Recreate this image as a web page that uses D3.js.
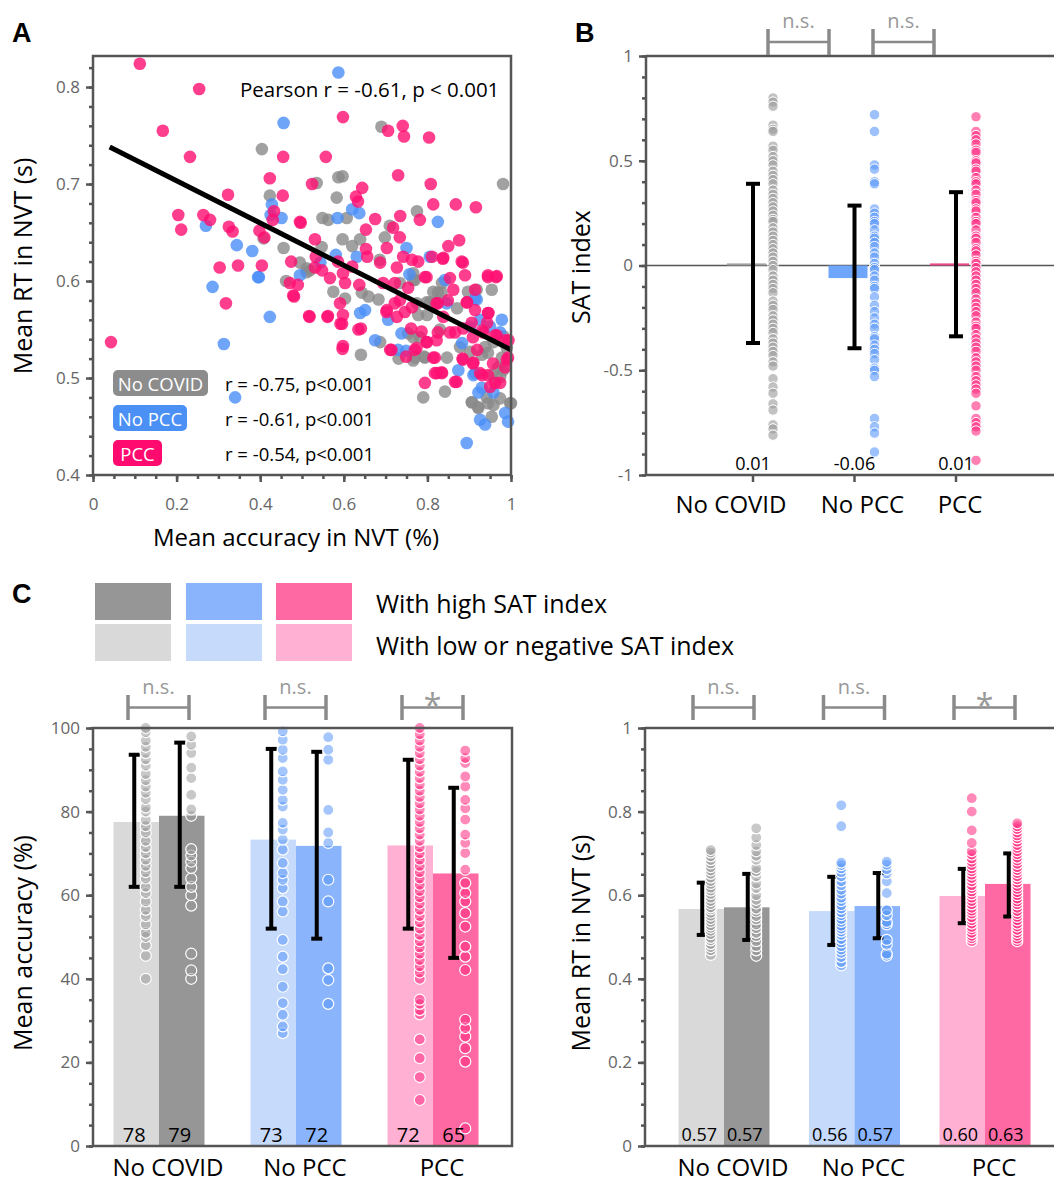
<!DOCTYPE html>
<html>
<head>
<meta charset="utf-8">
<script src="https://cdn.jsdelivr.net/npm/d3@7"></script>
<style>
  body { margin: 0; background: #fff; }
  svg text { font-family: 'Open Sans', 'DejaVu Sans', sans-serif; }
</style>
</head>
<body>
<svg id="fig" width="1054" height="1182"></svg>
<script>
'use strict';

// ---------- data ----------
var groups = ['No COVID', 'No PCC', 'PCC']

// panel A : [accuracy, RT]
var scatterGrey = [[0.404,0.736],[0.69,0.759],[0.981,0.70],[0.587,0.707],[0.597,0.708],[0.535,0.701],[0.423,0.688],[0.583,0.686],[0.775,0.672],[0.549,0.665],[0.563,0.663],[0.607,0.665],[0.71,0.657],[0.698,0.645],[0.597,0.643],[0.639,0.643],[0.62,0.636],[0.408,0.644],[0.456,0.634],[0.547,0.635],[0.511,0.613],[0.686,0.622],[0.766,0.608],[0.462,0.60],[0.511,0.609],[0.575,0.589],[0.603,0.582],[0.643,0.588],[0.659,0.584],[0.683,0.581],[0.687,0.537],[0.641,0.524],[0.731,0.52],[0.766,0.518],[0.792,0.522],[0.79,0.48],[0.842,0.486],[0.906,0.475],[0.922,0.469],[0.954,0.46],[0.958,0.472],[0.974,0.479],[1.0,0.474],[0.942,0.48],[0.958,0.537],[0.982,0.543],[0.99,0.531],[0.978,0.521],[0.974,0.501],[0.878,0.532],[0.902,0.527],[0.93,0.524],[0.734,0.598],[0.766,0.601],[0.814,0.589],[0.918,0.591],[0.954,0.591],[0.775,0.577],[0.798,0.578],[0.818,0.577],[0.834,0.588],[0.766,0.542],[0.83,0.55],[0.519,0.611],[0.495,0.619],[0.770,0.521],[0.794,0.521],[0.847,0.521],[0.945,0.526],[0.938,0.532],[0.969,0.511],[0.981,0.508],[0.955,0.503],[0.825,0.588],[0.806,0.578],[0.778,0.565],[0.799,0.565],[0.871,0.572],[0.897,0.589],[0.835,0.598],[0.770,0.601],[0.754,0.546],[0.782,0.542],[0.907,0.475],[0.921,0.47],[0.945,0.474],[0.998,0.474]]
var scatterBlue = [[0.587,0.815],[0.456,0.763],[0.428,0.679],[0.425,0.668],[0.451,0.665],[0.585,0.665],[0.62,0.674],[0.637,0.67],[0.825,0.661],[0.27,0.657],[0.344,0.637],[0.381,0.631],[0.581,0.627],[0.631,0.625],[0.75,0.634],[0.395,0.604],[0.495,0.606],[0.806,0.625],[0.286,0.594],[0.397,0.604],[0.423,0.563],[0.313,0.535],[0.34,0.48],[0.639,0.567],[0.651,0.57],[0.675,0.539],[0.706,0.56],[0.738,0.546],[0.73,0.529],[0.874,0.508],[0.894,0.433],[0.914,0.505],[0.922,0.485],[0.93,0.49],[0.958,0.485],[0.926,0.457],[0.938,0.452],[0.986,0.464],[0.993,0.455],[0.978,0.56],[0.918,0.581],[0.842,0.601],[0.846,0.577],[0.95,0.553],[0.974,0.547],[0.91,0.503],[0.926,0.56],[0.902,0.553],[0.883,0.536],[0.914,0.582],[0.757,0.607],[0.544,0.619],[0.749,0.528]]
var scatterPink = [[0.112,0.824],[0.254,0.798],[0.167,0.755],[0.232,0.728],[0.598,0.769],[0.455,0.728],[0.557,0.728],[0.706,0.755],[0.741,0.76],[0.744,0.749],[0.804,0.748],[0.423,0.706],[0.454,0.688],[0.323,0.689],[0.524,0.70],[0.644,0.696],[0.629,0.687],[0.634,0.682],[0.73,0.709],[0.808,0.70],[0.814,0.679],[0.868,0.679],[0.916,0.676],[0.204,0.668],[0.211,0.653],[0.264,0.668],[0.28,0.663],[0.325,0.656],[0.334,0.651],[0.347,0.616],[0.303,0.614],[0.404,0.616],[0.433,0.672],[0.43,0.663],[0.398,0.652],[0.41,0.645],[0.497,0.66],[0.531,0.643],[0.533,0.625],[0.675,0.664],[0.653,0.653],[0.653,0.633],[0.735,0.667],[0.718,0.655],[0.734,0.645],[0.703,0.634],[0.782,0.663],[0.85,0.636],[0.876,0.642],[0.882,0.62],[0.945,0.606],[0.966,0.605],[0.838,0.624],[0.043,0.537],[0.318,0.577],[0.479,0.585],[0.471,0.598],[0.49,0.596],[0.518,0.563],[0.561,0.563],[0.591,0.577],[0.598,0.565],[0.592,0.556],[0.597,0.53],[0.635,0.55],[0.637,0.596],[0.702,0.568],[0.722,0.577],[0.746,0.568],[0.714,0.529],[0.749,0.522],[0.774,0.531],[0.761,0.551],[0.786,0.548],[0.798,0.537],[0.822,0.539],[0.814,0.521],[0.818,0.505],[0.834,0.506],[0.794,0.495],[0.87,0.496],[0.884,0.52],[0.91,0.516],[0.926,0.505],[0.95,0.491],[0.974,0.495],[0.986,0.511],[0.99,0.519],[0.798,0.604],[0.854,0.603],[0.89,0.606],[0.722,0.598],[0.754,0.593],[0.862,0.591],[0.894,0.578],[0.914,0.57],[0.946,0.567],[0.906,0.557],[0.934,0.547],[0.966,0.544],[0.994,0.539],[0.854,0.547],[0.694,0.598],[0.727,0.563],[0.822,0.577],[0.838,0.563],[0.886,0.551],[0.763,0.622],[0.778,0.62],[0.811,0.625],[0.837,0.623],[0.885,0.619],[0.945,0.604],[0.964,0.604],[0.794,0.604],[0.914,0.591],[0.895,0.578],[0.849,0.58],[0.825,0.577],[0.763,0.573],[0.945,0.567],[0.943,0.557],[0.825,0.547],[0.866,0.547],[0.909,0.542],[0.931,0.549],[0.962,0.544],[0.986,0.539],[0.799,0.537],[0.770,0.529],[0.818,0.521],[0.885,0.519],[0.909,0.515],[0.919,0.529],[0.957,0.515],[0.823,0.505],[0.835,0.505],[0.931,0.503],[0.945,0.503],[0.962,0.495],[0.866,0.496],[0.993,0.521],[0.517,0.564],[0.562,0.564],[0.598,0.533],[0.596,0.556],[0.641,0.551],[0.548,0.611],[0.711,0.529],[0.703,0.57],[0.734,0.58],[0.656,0.625],[0.687,0.619],[0.727,0.614],[0.742,0.625],[0.598,0.608],[0.531,0.614],[0.474,0.62],[0.481,0.584],[0.495,0.661],[0.586,0.62],[0.62,0.615],[0.567,0.603],[0.603,0.598]]
var fitIntercept = 0.747, fitSlope = -0.218, fitRange = [0.04, 1.0]
var pearsonText = 'Pearson r = -0.61, p < 0.001'
var groupStats = ['r = -0.75, p<0.001', 'r = -0.61, p<0.001', 'r = -0.54, p<0.001']

// panel B : SAT index
var satMeans = [0.01, -0.06, 0.01]
var satErrLo = [-0.37, -0.395, -0.338]
var satErrHi = [0.39, 0.286, 0.35]
var satNoCovid = [0.80,0.78,0.76,0.67,0.65,0.64,0.57,0.55,0.52,0.50,0.48,0.45,0.43,0.41,0.39,0.36,0.34,0.32,0.30,0.28,0.26,0.24,0.22,0.21,0.18,0.16,0.14,0.12,0.10,0.08,0.06,0.04,0.02,0.00,-0.02,-0.05,-0.07,-0.09,-0.11,-0.13,-0.17,-0.19,-0.21,-0.24,-0.26,-0.28,-0.30,-0.32,-0.35,-0.37,-0.39,-0.41,-0.43,-0.46,-0.48,-0.54,-0.58,-0.61,-0.66,-0.69,-0.76,-0.78,-0.81]
var satNoPcc = [0.72,0.64,0.48,0.46,0.40,0.39,0.27,0.25,0.23,0.21,0.20,0.17,0.14,0.13,0.11,0.09,0.06,0.04,0.01,-0.01,-0.02,-0.05,-0.07,-0.10,-0.11,-0.15,-0.19,-0.22,-0.25,-0.28,-0.30,-0.34,-0.35,-0.38,-0.40,-0.42,-0.45,-0.49,-0.50,-0.53,-0.73,-0.77,-0.80,-0.89]
var satPcc = [0.71,0.64,0.62,0.60,0.58,0.55,0.54,0.50,0.49,0.46,0.45,0.42,0.40,0.39,0.36,0.34,0.31,0.30,0.27,0.26,0.23,0.21,0.20,0.17,0.14,0.13,0.11,0.08,0.07,0.05,0.02,0.01,-0.01,-0.03,-0.05,-0.07,-0.09,-0.11,-0.13,-0.16,-0.18,-0.20,-0.22,-0.24,-0.27,-0.29,-0.30,-0.33,-0.35,-0.37,-0.39,-0.41,-0.44,-0.46,-0.48,-0.50,-0.53,-0.55,-0.57,-0.59,-0.61,-0.67,-0.73,-0.75,-0.77,-0.79,-0.93]

// panel C left : accuracy (%), [low SAT, high SAT] per group
var accMeans = [[77.5, 79], [73.3, 71.8], [71.9, 65.2]]
var accLabels = [['78', '79'], ['73', '72'], ['72', '65']]
var accErrLo = [[62, 62], [52, 49.6], [52, 45]]
var accErrHi = [[93.6, 96.5], [95, 94.3], [92.4, 85.7]]
var accNoCovidLow = [40,45.5,48,50,51,53,55,56.5,58.5,60.5,62,64,65.5,67,68.5,70,71.5,73,75,76.5,78,80,81,83,84.5,86,87.5,89,91,92.5,94,95.5,97,99,100]
var accNoCovidHigh = [40,42,46,57.5,60,62,64,66.5,68,69.5,71,79,80.5,84,88,90.5,94,96,98]
var accNoPccLow = [27,28.6,31.4,34.2,38.1,42.3,45.3,49.3,56.1,58.5,61.7,63.7,65.3,67.7,70.9,73.3,75.7,77.3,81.2,82.8,85.2,87.6,89.6,92.8,94.8,97.2,99.2]
var accNoPccHigh = [34,39.7,42.5,58.5,63.7,72.5,75,80.4,92.4,94.8,97.8]
var accPccLow = [11,16.5,21,25.5,31.5,32.5,34,35,40,41.5,43,44.5,46,47.5,49,50.5,52,53.5,55,56.5,58,59.5,61,62.5,64,65.5,67,68.5,70,71.5,73,74.5,76,77.5,79,80.5,82,83.5,85,86.5,88,89.5,91,92.5,94,95.5,97,98.5,100]
var accPccHigh = [4.2,20.2,23.4,26.2,28.2,30.2,42.1,45.3,47.7,52.5,55.7,58.5,60.5,62.9,66.1,70.1,72.5,74.5,78.1,80.8,82.8,86,88.4,91.6,92.8,94.6]

// panel C right : RT (s)
var rtMeans = [[0.567, 0.571], [0.562, 0.574], [0.598, 0.627]]
var rtLabels = [['0.57', '0.57'], ['0.56', '0.57'], ['0.60', '0.63']]
var rtErrLo = [[0.505, 0.493], [0.481, 0.497], [0.533, 0.549]]
var rtErrHi = [[0.63, 0.651], [0.644, 0.653], [0.663, 0.70]]
var rtNoCovidLow = [0.457,0.468,0.476,0.483,0.492,0.498,0.507,0.515,0.522,0.528,0.536,0.543,0.551,0.558,0.566,0.571,0.579,0.586,0.594,0.603,0.611,0.618,0.627,0.634,0.642,0.651,0.659,0.667,0.676,0.684,0.693,0.702,0.708]
var rtNoCovidHigh = [0.455,0.468,0.478,0.49,0.502,0.51,0.521,0.53,0.542,0.55,0.561,0.568,0.58,0.589,0.6,0.617,0.628,0.645,0.657,0.665,0.685,0.694,0.705,0.72,0.738,0.76]
var rtNoPccLow = [0.432,0.44,0.452,0.462,0.47,0.478,0.487,0.495,0.505,0.513,0.52,0.527,0.536,0.543,0.552,0.559,0.568,0.576,0.586,0.594,0.604,0.613,0.624,0.633,0.645,0.655,0.664,0.672,0.678,0.765,0.815]
var rtNoPccHigh = [0.455,0.46,0.482,0.493,0.53,0.536,0.552,0.564,0.605,0.633,0.652,0.662,0.673,0.68]
var rtPccLow = [0.49,0.497,0.503,0.51,0.518,0.524,0.532,0.54,0.547,0.556,0.563,0.57,0.578,0.586,0.594,0.602,0.609,0.617,0.624,0.633,0.641,0.649,0.657,0.664,0.672,0.68,0.688,0.697,0.705,0.725,0.755,0.8,0.832]
var rtPccHigh = [0.49,0.496,0.503,0.51,0.517,0.525,0.532,0.54,0.548,0.555,0.562,0.57,0.578,0.585,0.592,0.6,0.607,0.615,0.622,0.63,0.638,0.645,0.653,0.66,0.667,0.675,0.683,0.69,0.698,0.705,0.713,0.72,0.728,0.736,0.743,0.75,0.758,0.765,0.772]

var sigB = ['n.s.', 'n.s.']
var sigC = ['n.s.', 'n.s.', '*']
var legendText = ['With high SAT index', 'With low or negative SAT index']

// ---------- colours ----------
var dotCol = ['#8a8a8a', '#4a8ff7', '#ff0f72']
var tagCol = ['#8c8c8c', '#4a90f5', '#ff0a6e']
var barHigh = ['#969696', '#8ab4fc', '#ff69a3']
var barLow = ['#d9d9d9', '#c6dafc', '#ffb0d3']
var stripCol = ['#9a9a9a', '#5a98fa', '#ff2a80']
var barBCol = ['#a0a0a0', '#6ea6fb', '#e84a8a']
var axisCol = '#555'
var sigCol = '#8a8a8a'

var loc = d3.formatLocale({ decimal: '.', thousands: ',', grouping: [3], currency: ['', ''], minus: '-' })
var fmtG = loc.format('~g')
var fmt2 = loc.format('.2f')
function fmtNum(d) { return fmtG(+d.toFixed(2)) }

var svg = d3.select('#fig')

function styleAxis(g) {
    g.select('.domain').remove()
    g.selectAll('line').attr('stroke', axisCol).attr('stroke-width', 2.5)
    g.selectAll('text').attr('fill', '#666').style('font-size', '17px')
}

function yAxisWithMinor(x0, scale, major, minor) {
    svg.append('g').attr('transform', 'translate(' + x0 + ',0)')
        .call(d3.axisLeft(scale).tickValues(minor).tickSize(4).tickFormat(''))
        .call(styleAxis)
    svg.append('g').attr('transform', 'translate(' + x0 + ',0)')
        .call(d3.axisLeft(scale).tickValues(major).tickSize(7).tickPadding(6).tickFormat(fmtNum))
        .call(styleAxis)
}

function line(x1, y1, x2, y2, col, w) {
    svg.append('line').attr('x1', x1).attr('y1', y1).attr('x2', x2).attr('y2', y2)
        .attr('stroke', col).attr('stroke-width', w)
}

function text(x, y, s, size, col, anchor, rot) {
    var t = svg.append('text').attr('x', x).attr('y', y).text(s)
        .style('font-size', size + 'px').attr('fill', col || '#000')
        .attr('text-anchor', anchor || 'middle').attr('dominant-baseline', 'central')
    if (rot) t.attr('transform', 'rotate(' + rot + ',' + x + ',' + y + ')')
    return t
}

function bracket(x1, x2, yTop, yBot, label) {
    var ym = (yTop + yBot) / 2
    line(x1, yTop, x1, yBot, sigCol, 3.5)
    line(x2, yTop, x2, yBot, sigCol, 3.5)
    line(x1, ym, x2, ym, sigCol, 2.5)
    if (label === '*') text((x1 + x2) / 2, yTop + 9, label, 32, '#999')
    else text((x1 + x2) / 2, yTop - 9, label, 20, '#999')
}

function errBar(x, yLo, yHi, hw) {
    line(x, yLo, x, yHi, '#000', 4)
    line(x - hw, yLo, x + hw, yLo, '#000', 4)
    line(x - hw, yHi, x + hw, yHi, '#000', 4)
}

function panelLetter(x, y, s) {
    svg.append('text').attr('x', x).attr('y', y).text(s)
        .style('font-family', 'Liberation Sans, Arial, sans-serif')
        .style('font-weight', 'bold').style('font-size', '27px')
}
panelLetter(12, 42, 'A')
panelLetter(575, 42, 'B')
panelLetter(12, 603, 'C')

// ================= panel A =================
var xA = d3.scaleLinear([0, 1], [93, 511])
var yA = d3.scaleLinear([0.4, 0.832], [475, 56])

svg.append('g').attr('transform', 'translate(0,' + yA(0.4) + ')')
    .call(d3.axisBottom(xA).tickValues(d3.range(0, 1.001, 0.05)).tickSize(4).tickFormat(''))
    .call(styleAxis)
svg.append('g').attr('transform', 'translate(0,' + yA(0.4) + ')')
    .call(d3.axisBottom(xA).tickValues([0, 0.2, 0.4, 0.6, 0.8, 1]).tickSize(7).tickPadding(16).tickFormat(fmtNum))
    .call(styleAxis)
yAxisWithMinor(xA(0), yA, [0.4, 0.5, 0.6, 0.7, 0.8], d3.range(0.4, 0.83, 0.02))

var scatterSets = [scatterGrey, scatterBlue, scatterPink]
scatterSets.forEach(function(set, i) {
    svg.append('g').selectAll('circle').data(set).join('circle')
        .attr('cx', function(d) { return xA(d[0]) })
        .attr('cy', function(d) { return yA(d[1]) })
        .attr('r', 6.3)
        .attr('fill', dotCol[i])
        .attr('fill-opacity', 0.8)
})

svg.append('line')
    .attr('x1', xA(fitRange[0])).attr('y1', yA(fitIntercept + fitSlope * fitRange[0]))
    .attr('x2', xA(fitRange[1])).attr('y2', yA(fitIntercept + fitSlope * fitRange[1]))
    .attr('stroke', '#000').attr('stroke-width', 5)

svg.append('rect').attr('x', xA(0)).attr('y', yA(0.832)).attr('width', xA(1) - xA(0)).attr('height', yA(0.4) - yA(0.832))
    .attr('fill', 'none').attr('stroke', axisCol).attr('stroke-width', 2.5)

text(240, 89, pearsonText, 20.5, '#000', 'start')

var tagW = [95, 74, 49]
groups.forEach(function(g, i) {
    var ty = 370 + i * 35
    svg.append('rect').attr('x', 113).attr('y', ty).attr('width', tagW[i]).attr('height', 26)
        .attr('rx', 5).attr('fill', tagCol[i])
    text(113 + tagW[i] / 2, ty + 13, g, 18.5, '#fff')
    text(225, ty + 13, groupStats[i], 18.5, '#000', 'start')
})

text(22, 266, 'Mean RT in NVT (s)', 25, '#000', 'middle', -90)
text(296, 536, 'Mean accuracy in NVT (%)', 24, '#000')

// ================= panel B =================
var xB = d3.scalePoint(groups, [753, 956])
var yB = d3.scaleLinear([-1, 1], [475, 56])
var labelShiftB = [-22, 8, 4]

yAxisWithMinor(646, yB, [-1, -0.5, 0, 0.5, 1], d3.range(-1, 1.001, 0.1))
line(646, yB(1), 1054, yB(1), axisCol, 2.5)
line(646, yB(-1), 1054, yB(-1), axisCol, 2.5)
line(646, yB(-1) + 1, 646, yB(1) - 1, axisCol, 2.5)
line(646, yB(0), 1054, yB(0), axisCol, 1.5)
groups.forEach(function(g) { line(xB(g), yB(-1), xB(g), yB(-1) + 7, axisCol, 2.5) })

groups.forEach(function(g, i) {
    var y0 = yB(0), y1 = yB(satMeans[i])
    svg.append('rect').attr('x', xB(g) - 26).attr('width', 39)
        .attr('y', Math.min(y0, y1)).attr('height', Math.max(1.5, Math.abs(y1 - y0)))
        .attr('fill', barBCol[i])
})
groups.forEach(function(g, i) {
    errBar(xB(g), yB(satErrLo[i]), yB(satErrHi[i]), 7)
})
var satSets = [satNoCovid, satNoPcc, satPcc]
satSets.forEach(function(set, i) {
    svg.append('g').selectAll('circle').data(set).join('circle')
        .attr('cx', xB(groups[i]) + 20)
        .attr('cy', function(d) { return yB(d) })
        .attr('r', 5.2)
        .attr('fill', stripCol[i]).attr('fill-opacity', 0.6)
        .attr('stroke', '#fff').attr('stroke-width', 1)
})
groups.forEach(function(g, i) {
    text(xB(g), 463, fmt2(satMeans[i]), 18, '#000')
    text(xB(g) + labelShiftB[i], 503, g, 24, '#000')
})
bracket(768, 829, 29, 55, sigB[0])
bracket(873, 934, 29, 55, sigB[1])
text(580, 267, 'SAT index', 25, '#000', 'middle', -90)

// ================= panel C legend =================
var legX = [95, 186, 276]
groups.forEach(function(g, i) {
    svg.append('rect').attr('x', legX[i]).attr('y', 583).attr('width', 76).attr('height', 37).attr('fill', barHigh[i])
    svg.append('rect').attr('x', legX[i]).attr('y', 624).attr('width', 76).attr('height', 37).attr('fill', barLow[i])
})
text(376, 603, legendText[0], 25, '#000', 'start')
text(376, 645, legendText[1], 25, '#000', 'start')

// ================= panel C, shared drawing =================
function drawBarPanel(xs, ys, means, labels, errLo, errHi, sets, labelSize, errShift) {
    var bw = 45.5
    groups.forEach(function(g, i) {
        var c = xs(g)
        svg.append('rect').attr('x', c - bw).attr('width', bw).attr('y', ys(means[i][0]))
            .attr('height', ys.range()[0] - ys(means[i][0])).attr('fill', barLow[i])
        svg.append('rect').attr('x', c).attr('width', bw).attr('y', ys(means[i][1]))
            .attr('height', ys.range()[0] - ys(means[i][1])).attr('fill', barHigh[i])
    })
    groups.forEach(function(g, i) {
        var c = xs(g)
        errBar(c - bw / 2 + errShift, ys(errLo[i][0]), ys(errHi[i][0]), 5.5)
        errBar(c + bw / 2 + errShift, ys(errLo[i][1]), ys(errHi[i][1]), 5.5)
    })
    groups.forEach(function(g, i) {
        var c = xs(g)
        ;[0, 1].forEach(function(k) {
            svg.append('g').selectAll('circle').data(sets[i][k]).join('circle')
                .attr('cx', c + (k === 0 ? -bw / 2 : bw / 2) + 9.5)
                .attr('cy', function(d) { return ys(d) })
                .attr('r', 5.5)
                .attr('fill', stripCol[i]).attr('fill-opacity', 0.55)
                .attr('stroke', '#fff').attr('stroke-width', 1.2)
        })
        text(c - bw / 2 - 2, 1134, labels[i][0], labelSize, '#000')
        text(c + bw / 2 - 2, 1134, labels[i][1], labelSize, '#000')
        text(c + 9, 1166, g, 24, '#000')
        bracket(c - 31, c + 30, 695, 720, sigC[i])
    })
}

// ---- C left ----
var xCL = d3.scalePoint(groups, [159, 433])
var yCL = d3.scaleLinear([0, 100], [1146, 728])
drawBarPanel(xCL, yCL, accMeans, accLabels, accErrLo, accErrHi,
    [[accNoCovidLow, accNoCovidHigh], [accNoPccLow, accNoPccHigh], [accPccLow, accPccHigh]], 20, -2)
yAxisWithMinor(93, yCL, [0, 20, 40, 60, 80, 100], d3.range(0, 100.1, 5))
svg.append('rect').attr('x', 93).attr('y', 728).attr('width', 419).attr('height', 418)
    .attr('fill', 'none').attr('stroke', axisCol).attr('stroke-width', 2.5)
text(22, 943, 'Mean accuracy (%)', 25, '#000', 'middle', -90)

// ---- C right ----
var xCR = d3.scalePoint(groups, [724, 985])
var yCR = d3.scaleLinear([0, 1], [1146, 728])
drawBarPanel(xCR, yCR, rtMeans, rtLabels, rtErrLo, rtErrHi,
    [[rtNoCovidLow, rtNoCovidHigh], [rtNoPccLow, rtNoPccHigh], [rtPccLow, rtPccHigh]], 18, 1)
yAxisWithMinor(645, yCR, [0, 0.2, 0.4, 0.6, 0.8, 1], d3.range(0, 1.001, 0.05))
line(645, 728, 1054, 728, axisCol, 2.5)
line(645, 1146, 1054, 1146, axisCol, 2.5)
line(645, 727, 645, 1147, axisCol, 2.5)
text(580, 943, 'Mean RT in NVT (s)', 25, '#000', 'middle', -90)
</script>
</body>
</html>
